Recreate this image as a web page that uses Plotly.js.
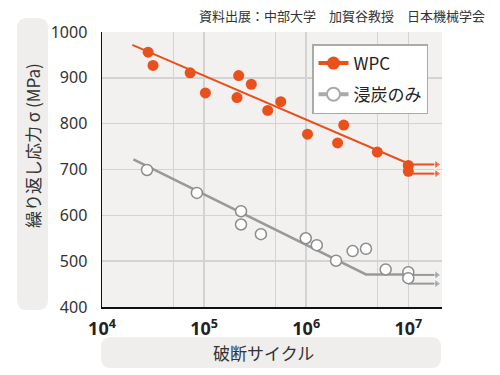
<!DOCTYPE html>
<html><head><meta charset="utf-8">
<script src="https://cdn.plot.ly/plotly-3.0.1.min.js"></script>
<style>html,body{margin:0;padding:0;background:#fff}#c{width:500px;height:375px}</style>
</head><body><div id="c"></div>
<script>
// ---- data ----
const wpcCycles = [2.83e4, 3.16e4, 7.3e4, 1.03e5, 2.18e5, 2.1e5, 2.9e5, 4.2e5, 5.63e5, 1.03e6, 2.33e6, 2.03e6, 4.97e6, 1.0e7, 1.0e7];
const wpcStress = [956, 927, 911, 867, 905, 857, 886, 829, 848, 777, 797, 758, 738, 709, 696];
const wpcFitCycles = [1.98e4, 1.0e7];
const wpcFitStress = [972, 713];
const wpcRunoutStress = [711, 691];

const carbCycles = [2.76e4, 8.5e4, 2.3e5, 2.3e5, 3.6e5, 9.9e5, 1.27e6, 1.96e6, 2.85e6, 3.85e6, 6.0e6, 1.0e7, 1.0e7];
const carbStress = [699, 649, 609, 580, 559, 550, 535, 501, 522, 527, 482, 476, 463];
const carbFitCycles = [2.03e4, 3.85e6, 1.0e7];
const carbFitStress = [722, 471, 471];
const carbRunoutStress = [470, 451];

const runoutCycles = [1.0e7, 1.9e7];
const xTickVals = [1e4, 1e5, 1e6, 1e7];
const xTickText = ['10<sup>4</sup>', '10<sup>5</sup>', '10<sup>6</sup>', '10<sup>7</sup>'];
const xMinorGrid = [5e4, 5e5, 5e6];
const yTickVals = [400, 500, 600, 700, 800, 900, 1000];
const names = ['WPC', '浸炭のみ'];

// ---- style ----
const ORANGE = '#e9501c', GRAY = '#999999', MGRAY = '#8c8c8c';
const L = 102, T = 32, W = 340, H = 275;
const JP = '"Noto Sans CJK JP", "Noto Sans", sans-serif';

function px2paper(x, y) { return [(x - L) / W, (T + H - y) / H]; }
function roundRect(x0, y0, x1, y1, r) {
  const rx = r / W, ry = r / H;
  const [a, b] = px2paper(x0, y1); // bottom-left
  const [c, d] = px2paper(x1, y0); // top-right
  return `M${a+rx},${b} L${c-rx},${b} Q${c},${b} ${c},${b+ry} L${c},${d-ry} Q${c},${d} ${c-rx},${d} L${a+rx},${d} Q${a},${d} ${a},${d-ry} L${a},${b+ry} Q${a},${b} ${a+rx},${b} Z`;
}

const traces = [];
function runouts(ys, color) {
  ys.forEach(y => traces.push({
    x: runoutCycles, y: [y, y], mode: 'lines+markers', showlegend: false, hoverinfo: 'skip',
    line: {color: color, width: 2},
    marker: {symbol: 'triangle-right', size: [0, 8], color: color}
  }));
}
runouts(wpcRunoutStress, ORANGE);
runouts(carbRunoutStress, GRAY);
traces.push({x: wpcFitCycles, y: wpcFitStress, mode: 'lines', showlegend: false, line: {color: ORANGE, width: 2}});
traces.push({x: carbFitCycles, y: carbFitStress, mode: 'lines', showlegend: false, line: {color: GRAY, width: 2.5}});
traces.push({x: wpcCycles, y: wpcStress, mode: 'markers', showlegend: false,
  marker: {size: 11, color: ORANGE}});
traces.push({x: carbCycles, y: carbStress, mode: 'markers', showlegend: false,
  marker: {size: 11, color: '#ffffff', line: {color: MGRAY, width: 1.5}}});
// legend entries
traces.push({x: [null], y: [null], name: names[0], legendgroup: 'a', mode: 'lines+markers',
  line: {color: ORANGE, width: 4}, marker: {size: 13, color: ORANGE}});
traces.push({x: [null], y: [null], name: names[1], legendgroup: 'b', mode: 'lines+markers',
  line: {color: '#aaaaaa', width: 4}, marker: {size: 13, color: '#ffffff', line: {color: '#aaaaaa', width: 2}}});

const [yx, yy] = px2paper(32, 146);
const [xx, xy] = px2paper(263, 352);
const [sx, sy] = px2paper(487, 15);

const layout = {
  width: 500, height: 375,
  margin: {l: L, r: 500 - L - W, t: T, b: 375 - T - H},
  paper_bgcolor: '#ffffff', plot_bgcolor: '#f2f1f0',
  font: {family: JP, color: '#333'},
  xaxis: {
    type: 'log', range: [4, 4 + 340 / 102.1],
    tickvals: xTickVals, ticktext: xTickText,
    tickfont: {family: '"Noto Sans", sans-serif', size: 18, weight: 'bold', color: '#222'},
    ticks: 'outside', ticklen: 5, tickcolor: 'rgba(0,0,0,0)',
    showgrid: true, gridcolor: '#d3d3d3', gridwidth: 1.5,
    minor: {tickvals: xMinorGrid, showgrid: true, gridcolor: '#d3d3d3', gridwidth: 1.5, ticks: ''},
    showline: true, linecolor: '#111', linewidth: 1.5, zeroline: false
  },
  yaxis: {
    range: [400, 1000], tickvals: yTickVals,
    tickfont: {family: '"Noto Sans", sans-serif', size: 16, color: '#333'},
    ticks: 'outside', ticklen: 10, tickcolor: 'rgba(0,0,0,0)',
    showgrid: true, gridcolor: '#d3d3d3', gridwidth: 1.5,
    showline: true, linecolor: '#111', linewidth: 1.5, zeroline: false
  },
  legend: {
    x: (312 - L) / W, y: (T + H - 44) / H, xanchor: 'left', yanchor: 'top',
    bgcolor: '#ffffff', bordercolor: '#aaaaaa', borderwidth: 1.5,
    font: {family: JP, size: 17, color: '#222'}, tracegroupgap: 6
  },
  shapes: [
    {type: 'path', xref: 'paper', yref: 'paper', path: roundRect(17, 18, 48, 310, 10),
     fillcolor: '#efeeec', line: {width: 0}, layer: 'below'},
    {type: 'path', xref: 'paper', yref: 'paper', path: roundRect(101, 337, 441, 368, 10),
     fillcolor: '#efeeec', line: {width: 0}, layer: 'below'}
  ],
  annotations: [
    {xref: 'paper', yref: 'paper', x: yx, y: yy, xanchor: 'center', yanchor: 'middle',
     text: '繰り返し応力 σ (MPa)', textangle: -90,
     showarrow: false, font: {family: JP, size: 17, color: '#333'}},
    {xref: 'paper', yref: 'paper', x: xx, y: xy, xanchor: 'center', yanchor: 'middle', text: '破断サイクル',
     showarrow: false, font: {family: JP, size: 17, color: '#333'}},
    {xref: 'paper', yref: 'paper', x: sx, y: sy, xanchor: 'right', yanchor: 'middle',
     text: '資料出展：中部大学　加賀谷教授　日本機械学会',
     showarrow: false, font: {family: JP, size: 13, color: '#333'}}
  ]
};
Plotly.newPlot('c', traces, layout, {displayModeBar: false, staticPlot: true});
</script></body></html>
